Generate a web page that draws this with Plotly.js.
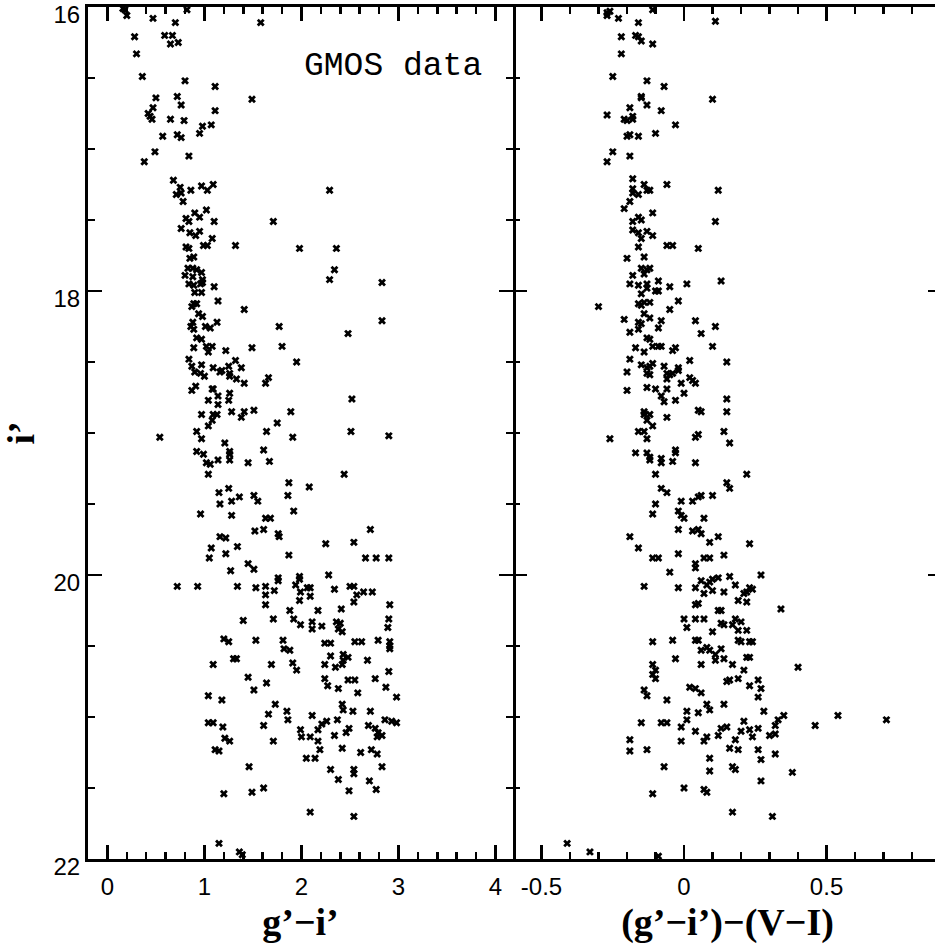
<!DOCTYPE html>
<html>
<head>
<meta charset="utf-8">
<script src="https://cdn.plot.ly/plotly-3.0.1.min.js"></script>
<style>
html,body{margin:0;padding:0;overflow:hidden;background:#fff;width:935px;height:949px;}
#chart{width:942px;height:949px;}
</style>
</head>
<body>
<div id="chart"></div>
<script>
// Left panel: g'-i' colour vs i' magnitude
const leftColor = [
0.18,0.20,0.16,0.47,0.70,0.82,0.59,0.67,0.65,0.73,0.28,0.30,0.36,0.80,1.11,1.58,1.49,0.72,0.76,0.50,
0.47,0.42,0.44,0.46,0.65,0.79,1.11,1.07,0.98,0.95,0.57,0.72,0.76,0.49,0.38,0.84,0.68,0.75,0.76,0.71,
0.86,0.97,1.03,1.09,0.78,1.02,0.90,0.95,0.81,0.84,1.10,1.71,0.76,0.85,0.95,0.91,1.08,0.99,1.03,0.81,
0.84,1.32,1.98,0.85,0.89,0.83,0.88,0.92,0.80,0.88,0.97,0.98,2.29,2.36,2.34,2.29,2.83,
0.84,0.89,0.96,0.98,1.10,0.90,0.97,0.89,0.87,0.92,1.14,0.94,0.98,0.88,0.86,0.89,1.01,1.06,1.13,1.41,
1.77,1.80,0.92,0.97,0.89,1.02,1.08,1.04,1.22,1.49,0.84,0.87,0.97,0.90,0.96,1.00,1.09,1.16,1.18,1.25,
1.32,1.38,1.26,1.26,1.33,1.41,1.63,1.66,1.95,0.87,0.91,1.08,1.09,1.14,1.26,1.25,1.04,1.14,0.97,1.09,
1.13,1.08,1.04,1.28,1.38,1.41,1.51,1.75,1.89,0.54,0.92,0.97,1.21,1.26,1.26,1.26,1.14,1.02,1.06,0.92,
0.99,1.04,1.45,1.61,1.67,1.64,1.91,1.87,2.08,1.25,1.15,1.16,1.28,1.36,1.51,1.55,0.96,1.28,1.63,1.68,
1.92,1.86,1.52,1.61,1.76,1.77,1.16,1.22,1.07,1.05,1.22,1.34,1.87,
2.83,2.48,2.52,2.51,2.90,2.44,2.71,2.25,2.54,2.66,2.77,2.90,
0.72,0.93,1.27,1.45,1.51,1.34,1.53,1.63,1.63,1.63,1.72,1.76,1.76,1.94,1.98,1.98,1.99,1.98,1.88,1.92,
1.99,1.71,1.40,1.53,1.20,1.25,1.09,1.33,1.30,1.69,1.81,1.82,1.88,1.91,1.95,1.45,1.64,1.51,1.04,1.18,
1.04,1.09,1.19,1.21,1.26,1.11,1.15,1.66,1.73,1.61,1.85,1.86,1.71,1.99,2.00,1.46,1.20,1.49,1.61,1.15,
1.36,1.39,
2.06,2.09,2.09,2.28,2.34,2.50,2.54,2.57,2.64,2.73,2.54,2.91,2.17,2.41,2.11,2.11,2.21,2.36,2.40,2.38,
2.42,2.90,2.89,2.24,2.30,2.55,2.62,2.79,2.91,2.91,2.91,2.30,2.24,2.35,2.43,2.43,2.48,2.42,2.68,2.90,
2.24,2.27,2.38,2.48,2.55,2.58,2.76,2.87,2.98,2.42,2.43,2.53,2.71,2.11,2.26,2.21,2.17,2.37,2.49,2.46,
2.34,2.09,2.17,2.19,2.05,2.14,2.69,2.76,2.79,2.83,2.78,2.86,2.93,2.98,2.42,2.61,2.72,2.78,2.83,2.30,
2.38,2.54,2.54,2.70,2.77,2.49,2.09,2.54
];
const leftMag = [
16.02,16.06,16.01,16.08,16.11,16.02,16.20,16.20,16.26,16.25,16.21,16.33,16.49,16.52,16.56,16.11,16.65,16.63,16.69,16.64,
16.71,16.75,16.77,16.79,16.79,16.80,16.73,16.83,16.84,16.89,16.91,16.90,16.92,17.02,17.09,17.05,17.22,17.27,17.31,17.32,
17.29,17.26,17.29,17.25,17.37,17.43,17.45,17.48,17.49,17.51,17.51,17.51,17.56,17.59,17.58,17.61,17.63,17.68,17.68,17.69,
17.70,17.68,17.70,17.77,17.76,17.84,17.84,17.85,17.89,17.90,17.87,17.92,17.29,17.70,17.85,17.92,17.94,
17.95,17.96,17.95,17.94,17.97,18.01,18.01,18.09,18.11,18.09,18.07,18.16,18.18,18.22,18.25,18.27,18.25,18.26,18.22,18.13,
18.25,18.39,18.33,18.34,18.40,18.39,18.39,18.43,18.42,18.40,18.48,18.53,18.52,18.57,18.58,18.60,18.54,18.57,18.56,18.53,
18.49,18.54,18.58,18.60,18.62,18.65,18.65,18.61,18.50,18.70,18.67,18.69,18.69,18.74,18.72,18.77,18.77,18.80,18.87,18.87,
18.87,18.91,18.95,18.85,18.89,18.85,18.84,18.93,18.85,19.03,18.99,19.04,19.07,19.13,19.15,19.19,19.19,19.21,19.22,19.13,
19.15,19.29,19.21,19.12,19.20,18.99,19.03,19.35,19.38,19.39,19.42,19.50,19.48,19.45,19.44,19.48,19.57,19.58,19.60,19.60,
19.55,19.44,19.69,19.68,19.71,19.73,19.73,19.74,19.81,19.88,19.85,19.80,19.86,
18.21,18.30,18.76,18.99,19.02,19.29,19.68,19.78,19.77,19.88,19.88,19.88,
20.08,20.08,19.97,19.92,19.96,20.08,20.09,20.08,20.14,20.21,20.11,20.02,20.04,20.07,20.01,20.03,20.12,20.18,20.25,20.31,
20.35,20.31,20.32,20.46,20.45,20.47,20.63,20.59,20.59,20.63,20.46,20.52,20.53,20.62,20.67,20.72,20.76,20.81,20.85,20.88,
21.04,21.04,21.07,21.15,21.17,21.23,21.24,20.98,20.91,21.06,20.96,21.02,21.17,21.09,21.14,21.35,21.54,21.53,21.50,21.89,
21.95,21.97,
20.09,20.09,20.15,20.00,20.10,20.08,20.08,20.14,20.12,20.12,20.19,20.21,20.25,20.24,20.33,20.38,20.36,20.33,20.34,20.38,
20.40,20.31,20.37,20.48,20.48,20.47,20.47,20.46,20.47,20.50,20.52,20.57,20.63,20.65,20.56,20.60,20.58,20.63,20.60,20.68,
20.73,20.78,20.80,20.74,20.74,20.83,20.73,20.79,20.86,20.91,20.95,20.96,20.96,20.99,21.03,21.05,21.09,21.02,21.08,21.11,
21.13,21.14,21.17,21.23,21.29,21.29,21.06,21.08,21.11,21.13,21.14,21.02,21.03,21.04,21.22,21.25,21.23,21.26,21.35,21.37,
21.44,21.37,21.40,21.45,21.51,21.52,21.67,21.70
];

// Right panel: (g'-i')-(V-I) vs i'
const rightDiff = [
-0.27,-0.27,-0.26,-0.23,-0.16,-0.11,0.11,-0.22,-0.17,-0.16,-0.15,-0.11,-0.22,-0.25,-0.13,-0.07,-0.15,-0.15,-0.13,0.10,
-0.19,-0.08,-0.27,-0.21,-0.20,-0.18,-0.18,-0.03,-0.20,-0.19,-0.16,-0.10,-0.25,-0.27,-0.19,-0.18,-0.18,-0.18,-0.16,-0.14,
-0.13,-0.12,-0.06,0.12,-0.19,-0.21,-0.11,-0.16,-0.15,-0.18,0.11,-0.18,-0.16,-0.13,-0.11,-0.15,-0.16,-0.06,-0.04,0.05,
-0.20,-0.14,-0.15,-0.13,-0.12,-0.14,-0.18,
-0.30,-0.26,
-0.19,-0.16,-0.13,-0.13,-0.09,-0.10,-0.09,-0.05,0.01,0.13,-0.15,-0.16,-0.15,-0.14,-0.12,-0.02,-0.05,-0.14,-0.12,-0.21,
-0.16,-0.16,-0.15,-0.19,-0.09,-0.08,0.04,0.11,0.06,-0.13,-0.12,-0.17,-0.14,-0.11,-0.09,-0.08,-0.04,-0.03,0.10,-0.19,
0.02,0.15,-0.20,-0.15,-0.13,-0.13,-0.12,-0.12,-0.11,-0.07,-0.06,-0.06,-0.05,-0.04,-0.02,-0.02,0.02,0.03,0.04,-0.01,
0.00,-0.20,-0.13,-0.10,-0.06,-0.08,-0.07,-0.03,0.15,0.15,0.05,0.06,-0.14,-0.14,-0.12,-0.13,-0.11,-0.06,-0.16,-0.14,
-0.13,0.04,0.05,0.14,0.16,-0.17,-0.13,-0.12,-0.12,-0.08,-0.08,-0.04,-0.03,-0.03,0.04,0.22,-0.10,-0.08,-0.06,-0.10,
-0.11,-0.01,0.03,0.05,0.06,0.10,0.15,0.16,-0.02,-0.01,0.00,0.07,-0.19,-0.16,-0.11,-0.09,-0.02,-0.02,0.03,0.05,
0.06,0.09,0.12,0.14,0.07,0.09,0.23,
0.04,0.04,-0.05,-0.14,-0.02,0.04,0.06,0.08,0.09,0.10,0.12,0.10,0.07,0.14,0.16,0.18,0.21,0.22,0.23,0.24,
0.27,0.19,0.22,0.34,0.04,0.05,0.12,0.13,0.00,0.01,0.04,0.07,0.13,0.14,0.17,0.18,0.19,0.20,0.22,0.10,
0.04,0.05,-0.04,-0.11,0.19,0.20,0.23,0.24,0.08,0.06,0.09,0.11,0.13,0.11,0.14,-0.03,0.06,0.17,0.22,0.23,
0.21,0.40,-0.11,-0.10,-0.11,-0.10,-0.14,-0.13,-0.06,0.02,0.04,0.06,0.08,0.09,0.14,0.15,0.16,0.19,0.23,0.26,
0.27,0.26,0.28,-0.15,-0.08,-0.06,-0.01,0.01,0.01,0.05,0.04,0.08,0.07,-0.01,0.12,0.13,0.15,0.18,0.20,0.21,
0.23,0.24,0.26,0.30,0.32,0.32,0.33,0.35,0.46,0.54,0.71,-0.19,-0.19,-0.13,-0.07,0.09,0.09,0.16,0.19,0.26,
0.27,0.32,0.17,0.18,0.38,0.27,-0.11,0.00,0.07,0.08,0.17,0.31,-0.09,
-0.41,-0.33
];
const rightMag = [
16.04,16.06,16.03,16.08,16.11,16.02,16.10,16.21,16.20,16.21,16.24,16.26,16.33,16.49,16.52,16.56,16.63,16.64,16.69,16.65,
16.71,16.73,16.76,16.79,16.80,16.77,16.79,16.83,16.91,16.90,16.91,16.89,17.02,17.09,17.05,17.21,17.28,17.31,17.32,17.25,
17.29,17.29,17.25,17.29,17.37,17.42,17.45,17.48,17.50,17.51,17.51,17.57,17.59,17.58,17.61,17.63,17.69,17.68,17.68,17.70,
17.77,17.76,17.84,17.85,17.84,17.88,17.89,
18.11,19.04,
17.95,17.96,17.95,17.98,17.93,18.00,18.00,17.97,17.95,17.93,18.02,18.09,18.10,18.08,18.08,18.07,18.13,18.16,18.19,18.20,
18.22,18.27,18.23,18.29,18.26,18.21,18.21,18.25,18.30,18.33,18.34,18.40,18.43,18.39,18.39,18.39,18.42,18.40,18.39,18.48,
18.49,18.50,18.57,18.52,18.58,18.54,18.59,18.53,18.51,18.53,18.58,18.62,18.59,18.58,18.54,18.56,18.61,18.63,18.65,18.65,
18.72,18.70,18.68,18.69,18.69,18.74,18.78,18.77,18.76,18.85,18.84,18.85,18.85,18.87,18.87,18.91,18.95,18.89,18.99,18.99,
19.04,19.03,19.01,18.99,19.07,19.14,19.14,19.17,19.19,19.18,19.21,19.20,19.12,19.14,19.21,19.29,19.29,19.39,19.42,19.50,
19.57,19.48,19.48,19.45,19.44,19.44,19.35,19.39,19.55,19.58,19.60,19.60,19.73,19.81,19.88,19.88,19.85,19.68,19.69,19.68,
19.71,19.77,19.73,19.86,19.88,19.88,19.78,
19.92,19.95,19.98,20.08,20.09,20.09,20.04,20.07,20.05,20.03,20.02,20.11,20.13,20.12,20.01,20.07,20.13,20.12,20.09,20.10,
20.00,20.18,20.19,20.24,20.21,20.20,20.25,20.25,20.31,20.37,20.31,20.31,20.34,20.35,20.35,20.31,20.39,20.33,20.39,20.40,
20.46,20.46,20.46,20.47,20.46,20.47,20.47,20.47,20.51,20.53,20.53,20.56,20.52,20.60,20.59,20.59,20.63,20.63,20.58,20.58,
20.67,20.65,20.63,20.67,20.70,20.73,20.81,20.85,20.88,20.79,20.80,20.83,20.91,20.95,20.91,20.75,20.74,20.73,20.78,20.74,
20.80,20.86,20.96,21.04,21.04,21.04,21.07,21.02,20.96,20.97,21.10,21.14,21.17,21.17,21.13,21.08,21.07,21.16,21.10,21.03,
21.09,21.14,21.08,21.13,21.12,21.06,21.02,20.99,21.06,20.99,21.02,21.16,21.24,21.23,21.35,21.29,21.38,21.22,21.23,21.23,
21.30,21.26,21.35,21.37,21.39,21.45,21.54,21.50,21.51,21.53,21.67,21.70,21.98,
21.89,21.95
];

const xTickVals1 = [0,1,2,3,4];
const xTickText1 = ['0','1','2','3','4'];
const xTickVals2 = [-0.5,0,0.5];
const xTickText2 = ['-0.5','0','0.5'];
const yTickVals = [16,18,20,22];
const yTickText = ['16','18','20','22'];

const marker = {symbol:'x', size:7, color:'#000', line:{width:0}};
const traces = [
  {x:leftColor, y:leftMag, type:'scatter', mode:'markers', marker:marker, xaxis:'x', yaxis:'y', hoverinfo:'skip'},
  {x:rightDiff, y:rightMag, type:'scatter', mode:'markers', marker:marker, xaxis:'x2', yaxis:'y2', hoverinfo:'skip'}
];

const tickFont = {family:'Liberation Sans, Arial, sans-serif', size:24, color:'#000'};
const titleFont = {family:'Liberation Serif, Times New Roman, serif', size:38, color:'#000'};
const common = {
  showline:true, linewidth:3, linecolor:'#000', mirror:'ticks',
  ticks:'inside', ticklen:14, tickwidth:2.5, tickcolor:'#000',
  showgrid:false, zeroline:false, tickfont:tickFont, automargin:false,
  ticklabeloverflow:'allow'
};
const split = 425/854;
const layout = {
  width:942, height:949,
  margin:{l:88, r:0, t:7, b:90, pad:0},
  paper_bgcolor:'#fff', plot_bgcolor:'#fff', showlegend:false,
  xaxis: Object.assign({}, common, {
    domain:[0, split], range:[-0.2, 4.18], anchor:'y',
    tickmode:'array', tickvals:xTickVals1, ticktext:xTickText1, ticklabelstandoff:4,
    minor:{dtick:0.2, tick0:0, ticklen:7, tickwidth:2.5, tickcolor:'#000', ticks:'inside', showgrid:false},
    title:{text:"<b>g’−i’</b>", font:titleFont, standoff:10}
  }),
  xaxis2: Object.assign({}, common, {
    domain:[split, 1], range:[-0.6, 0.905], anchor:'y2',
    tickmode:'array', tickvals:xTickVals2, ticktext:xTickText2, ticklabelstandoff:4,
    minor:{dtick:0.1, tick0:0, ticklen:7, tickwidth:2.5, tickcolor:'#000', ticks:'inside', showgrid:false},
    title:{text:"<b>(g’−i’)−(V−I)</b>", font:titleFont, standoff:10}
  }),
  yaxis: Object.assign({}, common, {
    domain:[0,1], range:[22, 16], anchor:'x',
    tickmode:'array', tickvals:yTickVals, ticktext:yTickText, ticklabelshift:-8,
    minor:{dtick:0.5, tick0:16, ticklen:7, tickwidth:2.5, tickcolor:'#000', ticks:'inside', showgrid:false},
    title:{text:"<b>i’</b>", font:titleFont, standoff:12}
  }),
  yaxis2: Object.assign({}, common, {
    domain:[0,1], range:[22, 16], anchor:'x2', showticklabels:false, showline:false,
    tickmode:'array', tickvals:yTickVals, ticktext:yTickText,
    minor:{dtick:0.5, tick0:16, ticklen:7, tickwidth:2.5, tickcolor:'#000', ticks:'inside', showgrid:false}
  }),
  annotations:[{
    text:'GMOS data', xref:'paper', yref:'paper', x:0.357, y:0.9296,
    xanchor:'center', yanchor:'middle', showarrow:false,
    font:{family:'Liberation Mono, Courier New, monospace', size:33, color:'#000'}
  }]
};
Plotly.newPlot('chart', traces, layout, {displayModeBar:false, staticPlot:true});
</script>
</body>
</html>
